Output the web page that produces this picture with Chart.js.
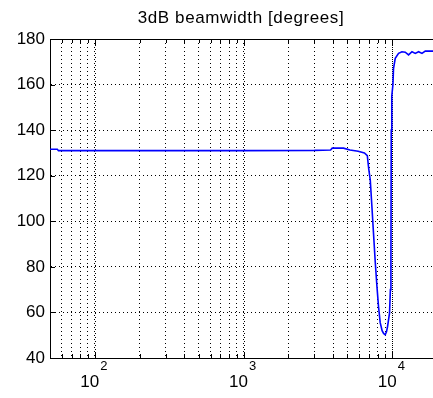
<!DOCTYPE html>
<html>
<head>
<meta charset="utf-8">
<script src="https://cdn.jsdelivr.net/npm/chart.js@4/dist/chart.umd.min.js"></script>
<style>
html, body { margin: 0; padding: 0; background: #fff; overflow: hidden; }
#wrap { width: 433px; height: 398px; overflow: hidden; position: relative; }
#beamGraph { position: absolute; left: 0; top: 0; }
</style>
</head>
<body>
<div id="wrap"><canvas id="beamGraph" width="440" height="398"></canvas></div>
<script>
// frequency [Hz] and 3dB beamwidth [deg]
var freqs = [50, 56, 57, 200, 1000, 3000, 3850, 3950, 4700, 5200, 5900, 6500, 6800, 6950, 7120, 7300,
             7480, 7690, 7890, 8090, 8300, 8550, 8750, 8970, 9150, 9300, 9590, 9720, 9800, 9850, 9930,
             10110, 10200, 10480, 11030, 11620, 12230, 12880, 13580, 14290, 15040, 15850, 16680, 18970, 20000];
var beamwidth = [131.6, 131.6, 131.0, 131.0, 131.0, 131.1, 131.3, 132.1, 132.1, 131.3, 130.7, 130.0, 128.8, 123.0, 118.0, 106.5,
                 95.0, 82.0, 71.5, 62.5, 55.5, 52.0, 50.8, 50.2, 51.5, 53.8, 59.7, 70.0, 80.0, 140.0, 155.0,
                 160.0, 167.0, 171.5, 173.7, 174.4, 174.2, 173.0, 174.4, 173.7, 174.4, 173.7, 174.7, 174.7, 174.8];

var xGridTicks = [50, 60, 70, 80, 90, 100, 200, 300, 400, 500, 600, 700, 800, 900,
                  1000, 2000, 3000, 4000, 5000, 6000, 7000, 8000, 9000, 10000, 20000];
var decades = [100, 1000, 10000];
var decadeExps = ['2', '3', '4'];
var yMin = 40, yMax = 180, yStep = 20;
var titleText = '3dB beamwidth [degrees]';

var fontFamily = '"Liberation Sans", Arial, sans-serif';

var pts = freqs.map(function(f, i) { return {x: f, y: beamwidth[i]}; });

// frame, inward tick marks and the heavier decade grid lines
var axesDecor = {
    id: 'axesDecor',
    beforeDatasetsDraw: function(chart) {
        var ctx = chart.ctx;
        var area = chart.chartArea;
        var xs = chart.scales.x, ys = chart.scales.y;
        ctx.save();
        ctx.strokeStyle = '#000';
        ctx.lineWidth = 1;

        // decade lines are denser dots
        ctx.setLineDash([1, 3]);
        ctx.lineDashOffset = 2;
        decades.forEach(function(d) {
            var x = Math.round(xs.getPixelForValue(d)) + 0.5;
            ctx.beginPath();
            ctx.moveTo(x, area.top);
            ctx.lineTo(x, area.bottom);
            ctx.stroke();
        });
        ctx.setLineDash([]);

        // top edge of the box
        ctx.beginPath();
        ctx.moveTo(area.left, Math.round(area.top) + 0.5);
        ctx.lineTo(area.right, Math.round(area.top) + 0.5);
        ctx.stroke();

        // ticks on bottom and top
        xGridTicks.forEach(function(v) {
            var x = Math.round(xs.getPixelForValue(v)) + 0.5;
            var len = decades.indexOf(v) >= 0 ? 6 : 4;
            ctx.beginPath();
            ctx.moveTo(x, area.bottom);
            ctx.lineTo(x, area.bottom - len);
            ctx.moveTo(x, area.top);
            ctx.lineTo(x, area.top + len);
            ctx.stroke();
        });
        // ticks on the left
        for (var v = yMin; v <= yMax; v += yStep) {
            var y = Math.round(ys.getPixelForValue(v)) + 0.5;
            ctx.beginPath();
            ctx.moveTo(area.left, y);
            ctx.lineTo(area.left + 5, y);
            ctx.stroke();
        }
        ctx.restore();
    },
    afterDraw: function(chart) {
        var ctx = chart.ctx;
        var area = chart.chartArea;
        var xs = chart.scales.x;
        ctx.save();
        ctx.fillStyle = '#000';

        // title
        ctx.font = '17px ' + fontFamily;
        ctx.textAlign = 'center';
        ctx.textBaseline = 'alphabetic';
        if ('letterSpacing' in ctx) ctx.letterSpacing = '0.6px';
        ctx.fillText(titleText, 241, 23);
        if ('letterSpacing' in ctx) ctx.letterSpacing = '0px';

        // 10^n labels under the axis
        ctx.textAlign = 'left';
        decades.forEach(function(d, i) {
            var x = xs.getPixelForValue(d);
            ctx.font = '17px ' + fontFamily;
            ctx.fillText('10', x - 14.5, area.bottom + 28.5);
            ctx.font = '13px ' + fontFamily;
            ctx.fillText(decadeExps[i], x + 5.5, area.bottom + 12);
        });
        ctx.restore();
    }
};

var config = {
    type: 'line',
    data: {
        datasets: [{
            data: pts,
            borderColor: '#0000ff',
            borderWidth: 1.6,
            pointRadius: 0,
            tension: 0,
            fill: false
        }]
    },
    options: {
        responsive: false,
        animation: false,
        layout: {
            padding: {top: 39, bottom: 40, left: 0, right: 3}
        },
        plugins: {
            legend: {display: false},
            title: {display: false},
            tooltip: {enabled: false}
        },
        scales: {
            x: {
                type: 'logarithmic',
                min: 50,
                max: 20000,
                afterBuildTicks: function(scale) {
                    scale.ticks = xGridTicks.map(function(v) { return {value: v}; });
                },
                afterFit: function(scale) { scale.height = 0; },
                ticks: {display: false},
                grid: {color: '#000', lineWidth: 1, drawTicks: false},
                border: {display: true, color: '#000', width: 1, dash: [1, 3]}
            },
            y: {
                min: yMin,
                max: yMax,
                afterFit: function(scale) { scale.width = 50; },
                ticks: {
                    stepSize: yStep,
                    color: '#000',
                    padding: 5,
                    font: {family: fontFamily, size: 17}
                },
                grid: {color: '#000', lineWidth: 1, drawTicks: false},
                border: {display: true, color: '#000', width: 1, dash: [1, 3]}
            }
        }
    },
    plugins: [axesDecor]
};

var chart = new Chart(document.getElementById('beamGraph').getContext('2d'), config);
</script>
</body>
</html>
